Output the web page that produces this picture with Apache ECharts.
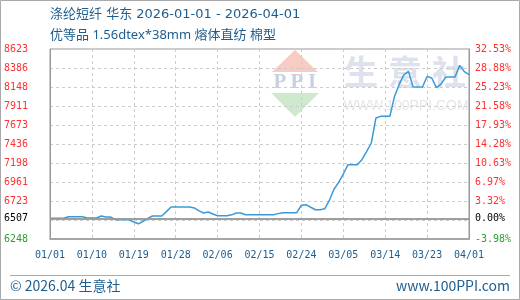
<!DOCTYPE html>
<html>
<head>
<meta charset="utf-8">
<script src="https://cdn.jsdelivr.net/npm/echarts@6/dist/echarts.min.js"></script>
<style>
html,body{margin:0;padding:0;background:#fff;}
#chart{width:520px;height:300px;}
</style>
</head>
<body>
<div id="chart"></div>
<script>
// ---- data ----
const titleLine1 = '涤纶短纤 华东 2026-01-01 - 2026-04-01';
const titleLine2 = '优等品 1.56dtex*38mm 熔体直纺 棉型';
const footerLeft = '© 2026.04 生意社';
const footerRight = 'www.100PPI.com';
const startDate = [2026, 1, 1];
const dayCount = 91;
const prices = [
  6507,6507,6507,6507,6525,6525,6525,6525,6510,6510,
  6510,6535,6523,6523,6490,6490,6490,6488,6460,6438,
  6470,6505,6535,6535,6535,6590,6648,6648,6648,6648,
  6648,6636,6600,6573,6585,6560,6539,6539,6539,6550,
  6573,6573,6552,6552,6552,6552,6552,6552,6552,6565,
  6577,6577,6577,6577,6670,6677,6645,6614,6614,6625,
  6730,6870,6955,7060,7177,7177,7177,7240,7340,7445,
  7760,7781,7781,7781,8030,8180,8300,8343,8148,8148,
  8148,8280,8260,8140,8185,8273,8273,8273,8418,8340,
  8302
];
const baseValue = 6507;
const baseLabelLeft = '6507';
const baseLabelRight = '0.00%';
const yMin = 6248;
const yMax = 8623;
const yStep = 237.5;
const leftTickLabels = ['6248','','6723','6961','7198','7436','7673','7911','8148','8386','8623'];
const rightTickLabels = ['-3.98%','','3.32%','6.97%','10.63%','14.28%','17.93%','21.58%','25.23%','28.88%','32.53%'];

// categories (daily dates)
const categories = [];
for (let i = 0; i < dayCount; i++) {
  const d = new Date(Date.UTC(startDate[0], startDate[1] - 1, startDate[2] + i));
  const mm = String(d.getUTCMonth() + 1).padStart(2, '0');
  const dd = String(d.getUTCDate()).padStart(2, '0');
  categories.push(mm + '/' + dd);
}

const RED = '#ff3030', GREEN = '#2ca02c', BLUE_TXT = '#1d5d8f';
const MONO = '"DejaVu Sans Mono", "Liberation Mono", monospace';
const CJK = '"Noto Sans CJK SC", "Noto Sans", sans-serif';

function tickIndex(v) { return Math.round((Number(v) - yMin) / yStep); }
function tickColor(v) {
  const n = Number(v);
  if (Math.abs(n - baseValue) < 1e-6) return '#000';
  return n > baseValue ? RED : GREEN;
}

const chart = echarts.init(document.getElementById('chart'), null, {renderer: 'canvas'});

const option = {
  animation: false,
  backgroundColor: '#fff',
  grid: {left: 50, right: 51, top: 49, bottom: 61, show: true, borderColor: '#999', borderWidth: 1, backgroundColor: 'transparent'},
  xAxis: {
    type: 'category',
    data: categories,
    boundaryGap: false,
    axisLine: {lineStyle: {color: '#999', width: 1.5}},
    axisTick: {show: false},
    axisLabel: {interval: 8, margin: 11, color: BLUE_TXT, fontFamily: MONO, fontSize: 10},
    splitLine: {show: true, interval: 8, lineStyle: {color: '#ccc', type: [3, 3], width: 1}}
  },
  yAxis: [{
    type: 'value', min: yMin, max: yMax, interval: yStep,
    axisLine: {show: true, lineStyle: {color: '#999', width: 1}},
    axisTick: {show: false},
    axisLabel: {
      margin: 22, fontFamily: MONO, fontSize: 10,
      formatter: function (v) { return leftTickLabels[tickIndex(v)] || ''; },
      color: function (v) { return tickColor(v); }
    },
    splitLine: {show: true, lineStyle: {color: '#ccc', type: [3, 3], width: 1}}
  }, {
    type: 'value', min: yMin, max: yMax, interval: yStep, position: 'right',
    axisLine: {show: true, lineStyle: {color: '#999', width: 1}},
    axisTick: {show: false},
    axisLabel: {
      margin: 6, fontFamily: MONO, fontSize: 10, align: 'left',
      formatter: function (v) { return rightTickLabels[tickIndex(v)] || ''; },
      color: function (v) { return tickColor(v); }
    },
    splitLine: {show: false}
  }],
  series: [{
    type: 'line', data: [], z: 1, silent: true,
    markLine: {
      silent: true, symbol: 'none',
      lineStyle: {color: '#999', width: 1.5, type: 'solid'},
      data: [
        {yAxis: baseValue, label: {show: true, position: 'start', distance: 22, formatter: baseLabelLeft, color: '#000', fontFamily: MONO, fontSize: 10}},
        {yAxis: baseValue, label: {show: true, position: 'end', distance: 6, formatter: baseLabelRight, color: '#000', fontFamily: MONO, fontSize: 10}}
      ]
    }
  }, {
    type: 'line', data: prices, z: 3,
    symbol: 'none', smooth: false,
    lineStyle: {color: '#3a9ad9', width: 1.5},
    itemStyle: {color: '#3a9ad9'}
  }],
  graphic: [
    {type: 'rect', shape: {x: 0.5, y: 0.5, width: 519, height: 299}, style: {fill: 'none', stroke: '#aaa', lineWidth: 1}, z: -20},
    {type: 'text', x: 50, y: 15, style: {text: titleLine1, font: '13px "DejaVu Sans", "Noto Sans CJK SC", sans-serif', fill: BLUE_TXT, verticalAlign: 'middle'}},
    {type: 'text', x: 50, y: 35, style: {text: titleLine2, font: '13px "Noto Sans", "Noto Sans CJK SC", sans-serif', fill: BLUE_TXT, verticalAlign: 'middle'}},
    {type: 'line', shape: {x1: 10, y1: 275.5, x2: 510, y2: 275.5}, style: {stroke: '#aaa', lineWidth: 1}},
    {type: 'text', x: 10, y: 286, style: {text: footerLeft, font: '14px ' + CJK, fill: BLUE_TXT, verticalAlign: 'middle'}},
    {type: 'text', x: 510, y: 286, style: {text: footerRight, font: '14px ' + CJK, fill: BLUE_TXT, verticalAlign: 'middle', align: 'right'}},
    // watermark
    {type: 'polygon', z: -10, shape: {points: [[295, 50], [318, 72], [272, 72]]}, style: {fill: '#f8cbc3'}},
    {type: 'polygon', z: -10, shape: {points: [[271, 93], [319, 93], [295, 117]]}, style: {fill: '#cfe9cf'}},
    {type: 'text', z: -10, x: 280, y: 83, style: {text: 'P', font: 'bold 21px "Liberation Serif", serif', fill: '#c8d0e2', align: 'center', verticalAlign: 'middle'}},
    {type: 'text', z: -10, x: 297, y: 83, style: {text: 'P', font: 'bold 21px "Liberation Serif", serif', fill: '#c8d0e2', align: 'center', verticalAlign: 'middle'}},
    {type: 'text', z: -10, x: 312, y: 83, style: {text: 'I', font: 'bold 21px "Liberation Serif", serif', fill: '#c8d0e2', align: 'center', verticalAlign: 'middle'}},
    {type: 'text', z: -10, x: 361, y: 72, style: {text: '生', font: 'bold 34px ' + CJK, fill: '#dde2ec', align: 'center', verticalAlign: 'middle'}},
    {type: 'text', z: -10, x: 405, y: 72, style: {text: '意', font: 'bold 34px ' + CJK, fill: '#dde2ec', align: 'center', verticalAlign: 'middle'}},
    {type: 'text', z: -10, x: 449, y: 72, style: {text: '社', font: 'bold 34px ' + CJK, fill: '#dde2ec', align: 'center', verticalAlign: 'middle'}},
    {type: 'text', z: -10, x: 406, y: 106, style: {text: 'WWW.100PPI.COM', font: '14px "Liberation Sans", Arial, sans-serif', fill: '#e6e6e6', align: 'center', verticalAlign: 'middle'}}
  ]
};
chart.setOption(option);
</script>
</body>
</html>
